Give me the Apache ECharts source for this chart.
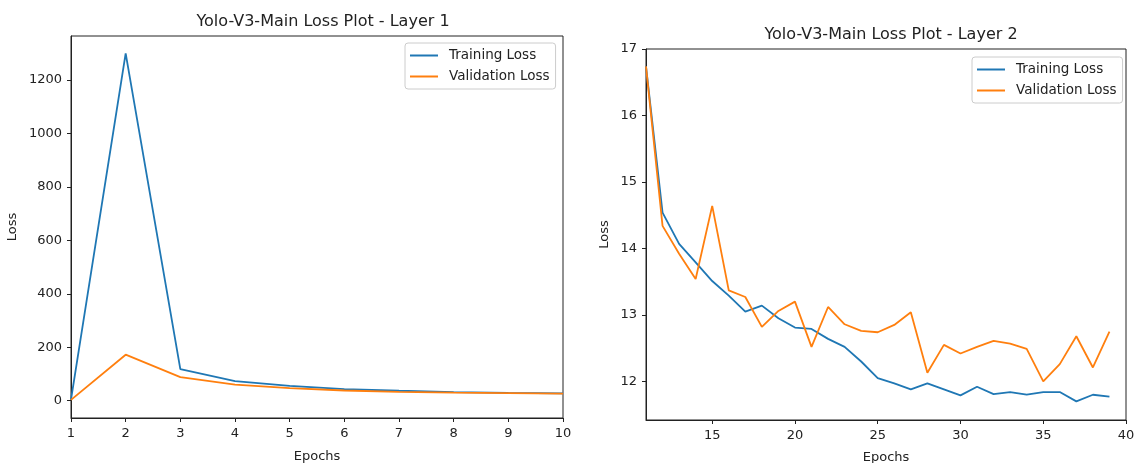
<!DOCTYPE html>
<html>
<head>
<meta charset="utf-8">
<script src="https://cdn.jsdelivr.net/npm/echarts@6/dist/echarts.min.js"></script>
<style>
  html, body { margin: 0; padding: 0; background: #fff; }
  #chart { width: 1137px; height: 463px; }
</style>
</head>
<body>
<div id="chart"></div>
<script>
// Layer 1 (epochs 1..10)
const epochs1 = [1, 2, 3, 4, 5, 6, 7, 8, 9, 10];
const train1 = [4, 1300, 118, 73, 55, 43, 37, 32, 29, 27];
const valid1 = [3, 172, 88, 60, 47, 38, 33, 30, 28, 26];
const yTicks1 = [0, 200, 400, 600, 800, 1000, 1200];
const xTicks1 = [1, 2, 3, 4, 5, 6, 7, 8, 9, 10];

// Layer 2 (epochs 11..39)
const epochs2 = [11, 12, 13, 14, 15, 16, 17, 18, 19, 20, 21, 22, 23, 24, 25,
  26, 27, 28, 29, 30, 31, 32, 33, 34, 35, 36, 37, 38, 39];
const train2 = [16.74, 14.54, 14.07, 13.79, 13.51, 13.29, 13.05, 13.14, 12.95, 12.81,
  12.79, 12.64, 12.52, 12.30, 12.05, 11.97, 11.88, 11.97, 11.88, 11.79,
  11.92, 11.81, 11.84, 11.80, 11.84, 11.84, 11.70, 11.80, 11.77];
const valid2 = [16.74, 14.34, 13.92, 13.54, 14.64, 13.37, 13.27, 12.82, 13.06, 13.20,
  12.52, 13.12, 12.86, 12.76, 12.74, 12.85, 13.04, 12.13, 12.55, 12.42,
  12.52, 12.61, 12.57, 12.49, 12.00, 12.26, 12.68, 12.21, 12.75];
const yTicks2 = [12, 13, 14, 15, 16, 17];
const xTicks2 = [15, 20, 25, 30, 35, 40];

const BLUE = '#1f77b4';
const ORANGE = '#ff7f0e';
const FONT = 'DejaVu Sans';

function zip(xs, ys) {
  return xs.map((x, i) => [x, ys[i]]);
}

// plain numbers, no thousands separator
const plain = v => String(v);

function valueAxis(opts, ticks, margin) {
  return Object.assign({
    type: 'value',
    splitLine: { show: false },
    axisLine: { show: true, onZero: false, lineStyle: { color: '#222', width: 1 } },
    axisTick: { show: true, inside: false, length: 4, customValues: ticks, lineStyle: { color: '#222' } },
    axisLabel: { color: '#222', fontFamily: FONT, fontSize: 13, margin: margin, customValues: ticks, formatter: plain },
    nameTextStyle: { color: '#222', fontFamily: FONT, fontSize: 13 },
    nameLocation: 'middle'
  }, opts);
}

function lineSeries(name, color, data, idx) {
  return {
    name: name,
    type: 'line',
    xAxisIndex: idx,
    yAxisIndex: idx,
    data: data,
    symbol: 'none',
    showSymbol: false,
    color: color,
    lineStyle: { color: color, width: 1.8 },
    animation: false
  };
}

function legendBox(left, top) {
  return {
    left: left,
    top: top,
    orient: 'vertical',
    icon: 'rect',
    itemWidth: 28,
    itemHeight: 2,
    itemGap: 6,
    padding: [5, 6, 5, 5],
    borderColor: '#ccc',
    borderWidth: 1,
    borderRadius: 3,
    backgroundColor: '#fff',
    textStyle: { color: '#222', fontFamily: FONT, fontSize: 13.5, lineHeight: 15, padding: [0, 0, 0, 6] },
    data: ['Training Loss', 'Validation Loss']
  };
}

const chart = echarts.init(document.getElementById('chart'));

chart.setOption({
  backgroundColor: '#fff',
  animation: false,
  title: [
    {
      text: 'Yolo-V3-Main Loss Plot - Layer 1',
      left: 318, top: 9, textAlign: 'center',
      textStyle: { color: '#222', fontFamily: FONT, fontSize: 16, fontWeight: 'normal' }
    },
    {
      text: 'Yolo-V3-Main Loss Plot - Layer 2',
      left: 886, top: 22, textAlign: 'center',
      textStyle: { color: '#222', fontFamily: FONT, fontSize: 16, fontWeight: 'normal' }
    }
  ],
  legend: [legendBox(405, 43), legendBox(972, 57)],
  grid: [
    { left: 71, right: 574, top: 36, bottom: 45, outerBoundsMode: 'none', show: true, borderColor: '#222', borderWidth: 1 },
    { left: 646, right: 11, top: 49, bottom: 43, outerBoundsMode: 'none', show: true, borderColor: '#222', borderWidth: 1 }
  ],
  xAxis: [
    valueAxis({ gridIndex: 0, min: 1, max: 10, name: 'Epochs', nameGap: 32 }, xTicks1, 9),
    valueAxis({ gridIndex: 1, min: 11, max: 40, name: 'Epochs', nameGap: 31 }, xTicks2, 9)
  ],
  yAxis: [
    valueAxis({ gridIndex: 0, min: -65, max: 1365, name: 'Loss', nameGap: 52 }, yTicks1, 9),
    valueAxis({ gridIndex: 1, min: 11.42, max: 17, name: 'Loss', nameGap: 35 }, yTicks2, 9)
  ],
  series: [
    lineSeries('Training Loss', BLUE, zip(epochs1, train1), 0),
    lineSeries('Validation Loss', ORANGE, zip(epochs1, valid1), 0),
    lineSeries('Training Loss', BLUE, zip(epochs2, train2), 1),
    lineSeries('Validation Loss', ORANGE, zip(epochs2, valid2), 1)
  ]
});
</script>
</body>
</html>
